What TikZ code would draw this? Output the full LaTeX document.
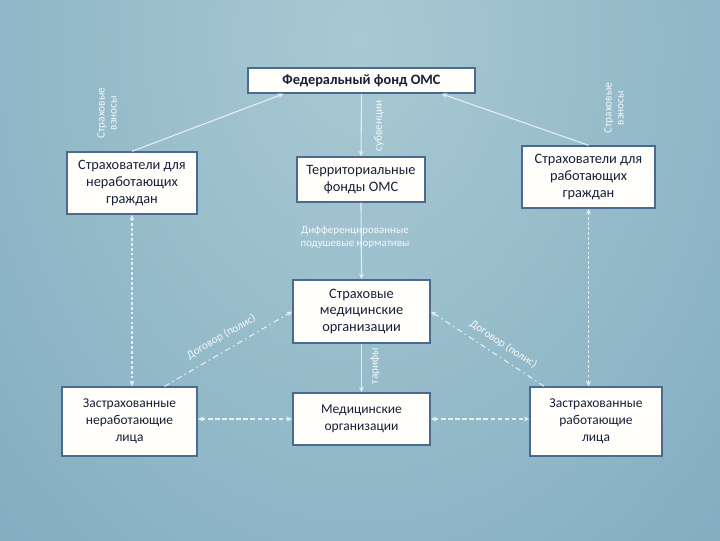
\documentclass[tikz,border=0pt]{standalone}
\usepackage{fontspec}
\setmainfont{Carlito}
\usetikzlibrary{calc}
\usetikzlibrary{arrows.meta}
\definecolor{bgtop}{HTML}{A9C9D3}
\definecolor{bgedge}{HTML}{679BB4}
\definecolor{boxline}{HTML}{4A6A90}
\definecolor{boxfill}{HTML}{FFFEFA}
\definecolor{boxtext}{HTML}{17203A}
\definecolor{flowc}{HTML}{E4EDF1}
\definecolor{notec}{HTML}{F4F8FA}

\begin{document}
\begin{tikzpicture}[x=0.025cm, y=-0.025cm, >={Stealth[length=4pt,width=3.5pt]}]
	\tikzstyle{box}  = [draw=boxline, line width=1pt, fill=boxfill, text=boxtext, align=center, inner sep=2pt, font=\fontsize{10.2}{12}\selectfont]
	\tikzstyle{flow} = [draw=flowc, line width=0.8pt]
	\tikzstyle{note} = [text=notec, align=center, inner sep=1pt, font=\fontsize{8}{8.6}\selectfont]
	%%Background
	\useasboundingbox (0,0) rectangle (720,540);
	\clip (0,0) rectangle (720,540);
	\shade[inner color=bgtop, outer color=bgedge] (360,40) ellipse (22.5cm and 30cm);

	\node [box, minimum width=5.68cm, minimum height=0.63cm, font=\bfseries\fontsize{10.2}{12}\selectfont](fed) at (361.5, 80.5) {Федеральный фонд ОМС};
	\node [box, minimum width=3.25cm, minimum height=1.55cm](insnw) at (132, 183) {Страхователи для\\неработающих\\граждан};
	\node [box, minimum width=3.2cm, minimum height=1.12cm](terr) at (361, 179.5) {Территориальные\\фонды ОМС};
	\node [box, minimum width=3.33cm, minimum height=1.55cm](insw) at (588.5, 177) {Страхователи для\\работающих\\граждан};
	\node [box, minimum width=3.43cm, minimum height=1.58cm](smo) at (361.5, 311.5) {Страховые\\медицинские\\организации};
	\node [box, minimum width=3.38cm, minimum height=1.72cm, font=\fontsize{9.6}{12}\selectfont](unemp) at (129.5, 421.5) {Застрахованные\\неработающие\\лица};
	\node [box, minimum width=3.43cm, minimum height=1.3cm, font=\fontsize{9.6}{12}\selectfont](med) at (361.5, 419) {Медицинские\\организации};
	\node [box, minimum width=3.3cm, minimum height=1.72cm, font=\fontsize{9.6}{12}\selectfont](emp) at (596, 421.5) {Застрахованные\\работающие\\лица};

	%%Money flows
	\draw[flow, ->] (insnw.north)--($(fed.south) + (-78, 0)$);
	\draw[flow, ->] (insw.north)--($(fed.south) + (80, 0)$);
	\draw[flow, ->] (fed.south)--(terr.north);
	\draw[flow, ->] (terr.south)--(smo.north);
	\draw[flow, ->] (smo.south)--(med.north);

	%%Contracts
	\draw[flow, <->, dash pattern=on 2pt off 1.5pt] (insnw.south)--(insnw.south |- unemp.north);
	\draw[flow, <->, dash pattern=on 2pt off 1.5pt] (insw.south)--(insw.south |- emp.north);
	\draw[flow, <->, dash pattern=on 3pt off 2pt] (med.west -| unemp.east)--(med.west);
	\draw[flow, <->, dash pattern=on 3pt off 2pt] (med.east)--(med.east -| emp.west);
	\draw[flow, ->, dash pattern=on 4pt off 2.5pt on 1pt off 2.5pt] ($(unemp.north) + (35, 0)$)--(smo.west)
		node[note, midway, sloped, above=5pt] {Договор (полис)};
	\draw[flow, <-, dash pattern=on 4pt off 2.5pt on 1pt off 2.5pt] (smo.east)--($(emp.north west) + (15, 0)$)
		node[note, pos=0.58, sloped, above=4pt] {Договор (полис)};

	%%Flow labels
	\node [note, rotate=90](lvl) at (107, 113) {Страховые\\взносы};
	\node [note, rotate=90](lvr) at (614, 108) {Страховые\\взносы};
	\node [note, rotate=90](lsub) at (379, 126) {субвенции};
	\node [note, font=\fontsize{7.8}{9.5}\selectfont](lnorm) at (355, 237) {Дифференцированные\\подушевые нормативы};
	\node [note, rotate=90](ltar) at (375, 366) {тарифы};
\end{tikzpicture}
\end{document}
